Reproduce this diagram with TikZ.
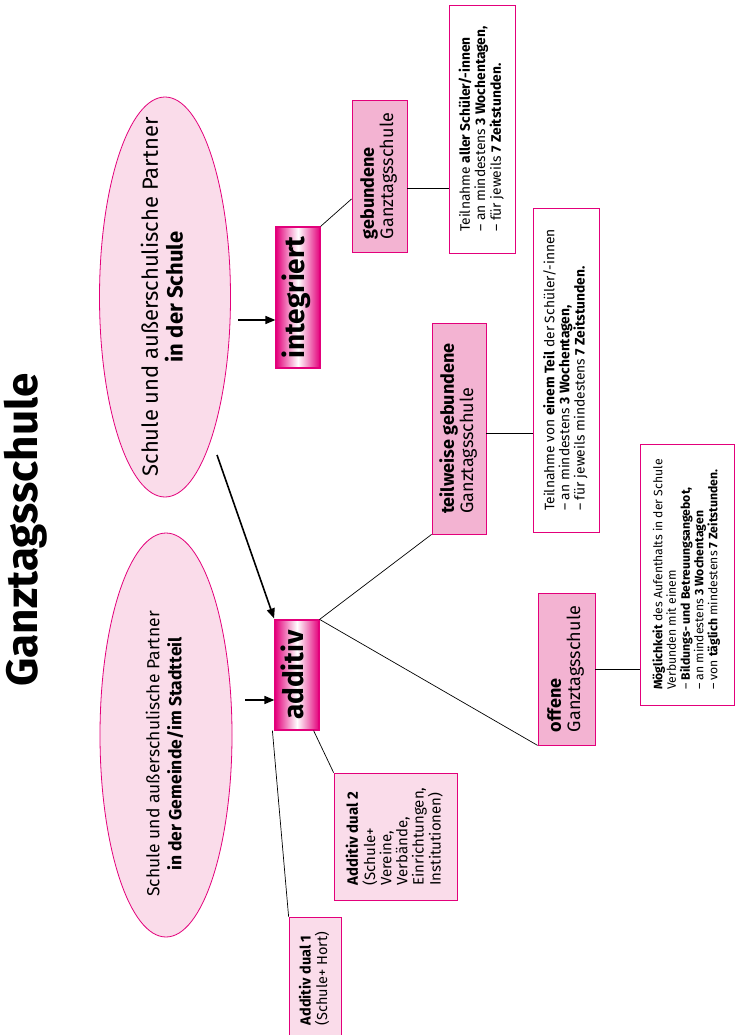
\documentclass[tikz,border=0pt]{standalone}
\usepackage{fontspec}
\setmainfont{Fira Sans}
\usetikzlibrary{shapes.geometric,arrows.meta,calc,positioning}

\definecolor{ganzmag}{HTML}{E3007B}
\definecolor{boxpink}{HTML}{F3B3D2}
\definecolor{palepink}{HTML}{FADCEA}

% text turned by 90 degrees, lines stacked
\newcommand{\vtext}[2][l]{\rotatebox{90}{\begin{tabular}{@{}#1@{}}#2\end{tabular}}}

\begin{document}
\begin{tikzpicture}[x=1pt, y=-1pt,
    partner/.style={ellipse, draw=ganzmag, fill=palepink, line width=0.8pt, inner sep=0pt},
    modus/.style={draw=ganzmag, line width=1.2pt, left color=ganzmag, right color=ganzmag,
      middle color=white, inner sep=0pt, font=\fontsize{28}{30}\selectfont\bfseries},
    form/.style={draw=ganzmag, fill=boxpink, line width=0.8pt, inner sep=0pt,
      font=\fontsize{18}{19}\selectfont},
    info/.style={draw=ganzmag, fill=white, line width=0.8pt, inner sep=0pt,
      font=\fontsize{13.8}{15}\selectfont},
    dual/.style={draw=ganzmag, fill=palepink, line width=0.8pt, inner sep=0pt,
      font=\fontsize{15}{15}\selectfont},
    pfeil/.style={line width=1.6pt, -{Triangle[length=10pt,width=8pt]}},
    linie/.style={line width=0.7pt}]
    \useasboundingbox (0,0) rectangle (735,1035);

    \node[font=\fontsize{44}{46}\selectfont\bfseries] (titel) at (28,530) {\vtext{Ganztagsschule}};

    % partners
    \node[partner, minimum width=131pt, minimum height=400pt] (ellSchule) at (165,297) {};
    \node[font=\fontsize{22}{23}\selectfont] (txtSchule) at (ellSchule)
    {\vtext[c]{Schule und außerschulische Partner\\\textbf{in der Schule}}};
    \node[partner, minimum width=132pt, minimum height=404pt] (ellGemeinde) at (166,735) {};
    \node[font=\fontsize{17.5}{22}\selectfont] (txtGemeinde) at (166,754)
    {\vtext[c]{Schule und außerschulische Partner\\\textbf{in der Gemeinde/im Stadtteil}}};

    % integriert / additiv
    \node[modus, minimum width=44pt, minimum height=141pt] (integ) at (298,297.5) {\vtext{integriert}};
    \node[modus, minimum width=44pt, minimum height=110pt] (add) at (297,675) {\vtext{additiv}};

    % forms of the school
    \node[form, minimum width=55pt, minimum height=152pt] (geb) at (379.5,176)
    {\vtext{\textbf{gebundene}\\Ganztagsschule}};
    \node[form, minimum width=54pt, minimum height=211pt] (teil) at (459,428.5)
    {\vtext{\textbf{teilweise gebundene}\\Ganztagsschule}};
    \node[form, minimum width=57pt, minimum height=152pt] (off) at (566.5,669)
    {\vtext{\textbf{offene}\\Ganztagsschule}};

    \node[info, minimum width=66pt, minimum height=248pt] (infoGeb) at (482,129)
    {\vtext{Teilnahme \textbf{aller Schüler/-innen}\\
        – an mindestens \textbf{3 Wochentagen,}\\
        – für jeweils \textbf{7 Zeitstunden.}}};
    \node[info, font=\fontsize{13.8}{14}\selectfont, minimum width=66pt, minimum height=324pt]
    (infoTeil) at (566,370)
    {\vtext{Teilnahme von \textbf{einem Teil} der Schüler/-innen\\
        – an mindestens \textbf{3 Wochentagen,}\\
        – für jeweils mindestens \textbf{7 Zeitstunden.}}};
    \node[info, font=\fontsize{12.2}{13.5}\selectfont, minimum width=94pt, minimum height=261pt]
    (infoOff) at (687,574.5)
    {\vtext{\textbf{Möglichkeit} des Aufenthalts in der Schule\\
        Verbunden mit einem\\
        – \textbf{Bildungs- und Betreuungsangebot,}\\
        – an mindestens \textbf{3 Wochentagen}\\
        – von \textbf{täglich} mindestens \textbf{7 Zeitstunden.}}};

    \node[dual, minimum width=123pt, minimum height=127pt] (dual2) at (395.5,836.5)
    {\vtext{\textbf{Additiv dual 2}\\(Schule+\\Vereine,\\Verbände,\\Einrichtungen,\\Institutionen)}};
    \node[dual, font=\fontsize{14.5}{14}\selectfont, minimum width=52pt, minimum height=123pt]
    (dual1) at (315,978.5) {\vtext{\textbf{Additiv dual 1}\\(Schule+ Hort)}};

    % arrows
    \coordinate (vonSchule) at (238,320);
    \coordinate (vonGemeinde) at (245,700);
    \coordinate (vonSchuleSchraeg) at (217,455);
    \draw[pfeil] (vonSchule) -- (vonSchule -| integ.west);
    \draw[pfeil] (vonGemeinde) -- (vonGemeinde -| add.west);
    \draw[pfeil, shorten >=1pt] (vonSchuleSchraeg) -- (add.north west);

    % lines
    \draw[linie] (integ.north east) -- ($(geb.north west)!0.65!(geb.south west)$);
    \draw[linie] ([yshift=-12pt]geb.east) -- ([yshift=-12pt]geb.east -| infoGeb.west);
    \draw[linie] (add.north east) -- (teil.south west);
    \draw[linie] (add.north east) -- (off.south west);
    \draw[linie] ([yshift=-4.5pt]teil.east) -- ([yshift=-4.5pt]teil.east -| infoTeil.west);
    \draw[linie] (off.east) -- (off.east -| infoOff.west);
    \draw[linie] ([xshift=-2pt]add.south west) -- (dual1.north west);
    \draw[linie] ([xshift=-6pt]add.south east) -- (dual2.north west);
\end{tikzpicture}
\end{document}
